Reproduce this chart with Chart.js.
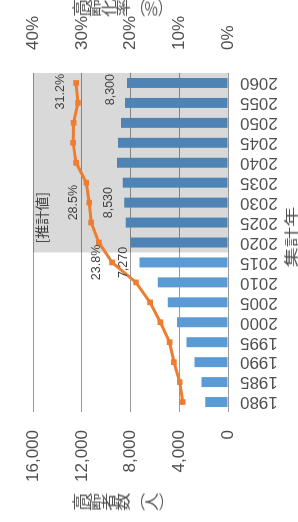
<!DOCTYPE html>
<html lang="ja">
<head>
<meta charset="utf-8">
<title>高齢者数と高齢化率</title>
<script src="https://cdn.jsdelivr.net/npm/chart.js@4.4.1/dist/chart.umd.min.js"></script>
<style>
  html, body { margin: 0; padding: 0; background: #fff; overflow: hidden; }
  body { width: 298px; height: 522px; position: relative; }
  /* the chart is drawn upright (522x298) and then turned a quarter turn to the left */
  #wrap {
    position: absolute; left: 0; top: 0;
    width: 522px; height: 298px;
    transform-origin: 0 0;
    transform: translate(0px, 522px) rotate(-90deg);
  }
  #wrap canvas { position: absolute; left: 0; top: 0; }
  .vtitle {
    position: absolute;
    writing-mode: vertical-rl;
    font-family: "Noto Sans CJK JP", sans-serif;
    font-size: 14.5px;
    line-height: 1;
    color: #505050;
    transform: scaleX(1.25);
    white-space: nowrap;
  }
  .htitle {
    position: absolute;
    font-family: "Noto Sans CJK JP", sans-serif;
    font-size: 14px;
    line-height: 1;
    color: #505050;
    transform: scaleX(1.45);
    white-space: nowrap;
  }
</style>
</head>
<body>
<div id="wrap">
  <canvas id="myChart" width="522" height="298"></canvas>
  <div class="vtitle" id="leftTitle" style="left:12px; top:72px;">高齢者数（人）</div>
  <div class="vtitle" id="rightTitle" style="left:506px; top:72px;">高齢化率（%）</div>
  <div class="htitle" id="xTitle" style="left:264px; top:283px;">集計年</div>
</div>
<script>
// 集計年
const years = ['1980', '1985', '1990', '1995', '2000', '2005', '2010', '2015', '2020',
  '2025', '2030', '2035', '2040', '2045', '2050', '2055', '2060'];
// 高齢者数（人）
const elderlyCount = [1860, 2170, 2750, 3400, 4180, 4950, 5770, 7270, 8000,
  8400, 8530, 8640, 9120, 9040, 8780, 8450, 8300];
// 高齢化率（%）
const agingRate = [9.3, 9.9, 11.1, 12.0, 13.9, 16.0, 18.9, 23.8, 26.5,
  28.1, 28.5, 29.1, 31.2, 31.8, 31.7, 30.8, 31.2];
const countTicks = [0, 4000, 8000, 12000, 16000];
const rateTicks = [0, 10, 20, 30, 40];
// years that carry a value label, and where the projection starts
const labeledYears = ['2015', '2030', '2060'];
const firstProjectedYear = '2020';
const projectionLabel = '[推計値]';

const numFont = '"Liberation Sans", Arial, sans-serif';
const textColor = '#505050';

// grey box over the projected years (drawn over the bars, under the line)
const projectionBox = {
  id: 'projectionBox',
  afterDatasetDraw(chart, args) {
    if (args.meta.type !== 'bar') return;
    const area = chart.chartArea;
    const x = chart.scales.x;
    const i = years.indexOf(firstProjectedYear);
    const left = (x.getPixelForValue(i - 1) + x.getPixelForValue(i)) / 2;
    const ctx = chart.ctx;
    ctx.save();
    ctx.fillStyle = 'rgba(0,0,0,0.15)';
    ctx.fillRect(left, area.top, area.right - left, area.bottom - area.top);
    ctx.restore();
  }
};

// value labels and the [推計値] note
const valueLabels = {
  id: 'valueLabels',
  afterDatasetsDraw(chart) {
    const ctx = chart.ctx;
    const area = chart.chartArea;
    const barMeta = chart.getDatasetMeta(1);
    const lineMeta = chart.getDatasetMeta(0);
    ctx.save();
    ctx.fillStyle = '#404040';
    ctx.textAlign = 'center';
    ctx.textBaseline = 'middle';
    ctx.font = '12.5px ' + numFont;
    labeledYears.forEach(function(yr) {
      const i = years.indexOf(yr);
      const bar = barMeta.data[i];
      const pt = lineMeta.data[i];
      const countText = elderlyCount[i].toLocaleString('en-US');
      const rateText = agingRate[i].toFixed(1) + '%';
      let w = ctx.measureText(countText).width;
      ctx.fillText(countText, Math.min(bar.x, area.right - w / 2 - 1), bar.y - 16);
      w = ctx.measureText(rateText).width;
      ctx.fillText(rateText, Math.min(pt.x, area.right - w / 2 - 1), pt.y - 16);
    });
    // note in the corner of the projection box
    const x = chart.scales.x;
    const i = years.indexOf(firstProjectedYear);
    const left = (x.getPixelForValue(i - 1) + x.getPixelForValue(i)) / 2;
    ctx.textAlign = 'left';
    ctx.textBaseline = 'top';
    ctx.font = '14px "Noto Sans CJK JP", sans-serif';
    ctx.fillText(projectionLabel, left + 9, area.top + 1);
    ctx.restore();
  }
};

const ctx = document.getElementById('myChart').getContext('2d');
const myChart = new Chart(ctx, {
  type: 'bar',
  data: {
    labels: years,
    datasets: [{
      type: 'line',
      label: '高齢化率',
      data: agingRate,
      yAxisID: 'y2',
      borderColor: '#ed7d31',
      backgroundColor: '#ed7d31',
      borderWidth: 3,
      pointStyle: 'rect',
      pointRadius: 4,
      pointBorderWidth: 0,
      tension: 0,
      order: 0
    }, {
      type: 'bar',
      label: '高齢者数',
      data: elderlyCount,
      yAxisID: 'y',
      backgroundColor: '#5b9bd5',
      categoryPercentage: 1,
      barPercentage: 0.5,
      order: 1
    }]
  },
  options: {
    responsive: false,
    animation: false,
    devicePixelRatio: 1,
    layout: { padding: { top: 21, left: 0, right: 0, bottom: 0 } },
    plugins: {
      legend: { display: false },
      tooltip: { enabled: false }
    },
    scales: {
      x: {
        grid: { display: false, drawTicks: false },
        border: { display: false },
        ticks: {
          autoSkip: false,
          minRotation: 90,
          maxRotation: 90,
          padding: 12,
          color: textColor,
          font: { family: numFont, size: 17 }
        },
        afterFit: function(scale) { scale.height = 70; }
      },
      y: {
        position: 'left',
        min: countTicks[0],
        max: countTicks[countTicks.length - 1],
        afterBuildTicks: function(scale) {
          scale.ticks = countTicks.map(v => ({ value: v }));
        },
        grid: { color: '#9a9a9a', lineWidth: 1, drawTicks: false },
        border: { display: false },
        ticks: {
          padding: 18,
          color: textColor,
          font: { family: numFont, size: 17 },
          callback: v => v.toLocaleString('en-US')
        },
        afterFit: function(scale) { scale.width = 110; }
      },
      y2: {
        position: 'right',
        min: rateTicks[0],
        max: rateTicks[rateTicks.length - 1],
        afterBuildTicks: function(scale) {
          scale.ticks = rateTicks.map(v => ({ value: v }));
        },
        grid: { display: false, drawTicks: false },
        border: { display: false },
        ticks: {
          padding: 23,
          color: textColor,
          font: { family: numFont, size: 17 },
          callback: v => v + '%'
        },
        afterFit: function(scale) { scale.width = 73; }
      }
    }
  },
  plugins: [projectionBox, valueLabels]
});
</script>
</body>
</html>
